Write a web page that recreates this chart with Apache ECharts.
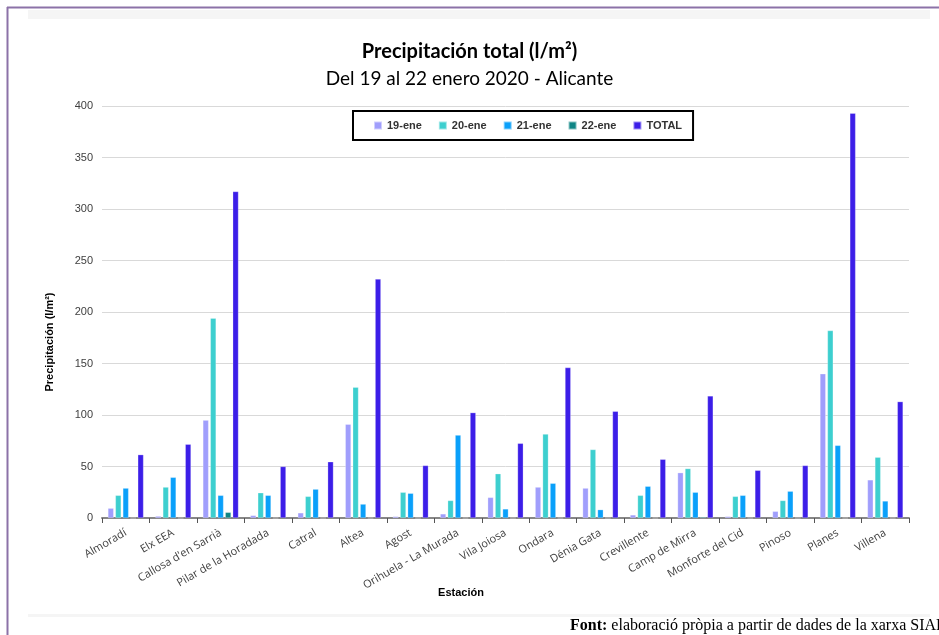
<!DOCTYPE html>
<html>
<head>
<meta charset="utf-8">
<script src="https://cdn.jsdelivr.net/npm/echarts@6/dist/echarts.min.js"></script>
<style>
html,body{margin:0;padding:0;background:#fff;}
#c{width:939px;height:635px;}
</style>
</head>
<body>
<div id="c"></div>
<script>
const categories = ["Almoradí","Elx EEA","Callosa d'en Sarrià","Pilar de la Horadada","Catral","Altea","Agost","Orihuela - La Murada","Vila Joiosa","Ondara","Dénia Gata","Crevillente","Camp de Mirra","Monforte del Cid","Pinoso","Planes","Villena"];
const ene19 = [9.5, 1.8, 95, 2.5, 5, 91, 1.5, 4, 20, 30, 29, 3, 44, 1.5, 6.5, 140, 37];
const ene20 = [22, 30, 194, 24.5, 21, 127, 25, 17, 43, 81.5, 66.5, 22, 48, 21, 17, 182, 59];
const ene21 = [29, 39.5, 22, 22, 28, 13.5, 24, 80.5, 8.8, 33.7, 8.1, 30.8, 25, 22, 26, 70.5, 16.5];
const ene22 = [0, 0, 5.5, 0, 0, 0, 0, 0, 0, 0, 0, 0, 1, 0, 0, 0, 0];
const total = [61.5, 71.6, 317, 50, 54.6, 232, 51, 102.3, 72.5, 146, 103.6, 57, 118.5, 46.3, 51, 393, 113];
const seriesNames = ["19-ene","20-ene","21-ene","22-ene","TOTAL"];
const yTicks = {min: 0, max: 400, interval: 50};

const colors = ["#a09efc","#3dcfcf","#0aa0fa","#0e8585","#3c1ee8"];
const dataSets = [ene19, ene20, ene21, ene22, total];

const chart = echarts.init(document.getElementById('c'), null, {renderer:'canvas'});
chart.setOption({
  animation: false,
  backgroundColor: '#fff',
  color: colors,
  title: {
    text: 'Precipitación total (l/m²)',
    subtext: 'Del 19 al 22 enero 2020 - Alicante',
    left: 'center',
    top: 37,
    itemGap: 7,
    textStyle: {fontFamily: 'Lato', fontWeight: 'bold', fontSize: 20, color: '#000'},
    subtextStyle: {fontFamily: 'Lato', fontSize: 19, color: '#000'}
  },
  legend: {
    data: seriesNames,
    left: 353,
    top: 111,
    padding: [9, 11, 9, 20],
    borderColor: '#000',
    borderWidth: 2,
    itemWidth: 8,
    itemHeight: 8,
    itemGap: 16,
    icon: 'rect',
    textStyle: {fontFamily: 'Liberation Sans', fontWeight: 'bold', fontSize: 11, color: '#333'}
  },
  grid: {left: 102, right: 30, top: 106, bottom: 117},
  xAxis: {
    type: 'category',
    data: categories,
    axisLine: {lineStyle: {color: '#868686', width: 2}},
    axisTick: {show: true, length: 5, lineStyle: {color: '#555', width: 1}},
    axisLabel: {rotate: 30, margin: 14, fontFamily: 'Open Sans', fontSize: 11, color: '#404040', interval: 0}
  },
  yAxis: {
    type: 'value',
    min: yTicks.min, max: yTicks.max, interval: yTicks.interval,
    axisLine: {show: false},
    axisTick: {show: false},
    splitLine: {lineStyle: {color: '#d9d9d9', width: 1}},
    axisLabel: {margin: 9, fontFamily: 'Liberation Sans', fontSize: 11, color: '#404040'}
  },
  graphic: [
    {type: 'line', shape: {x1: 7, y1: 7.5, x2: 939, y2: 7.5}, style: {stroke: '#8c72a8', lineWidth: 2}},
    {type: 'line', shape: {x1: 7.5, y1: 7, x2: 7.5, y2: 635}, style: {stroke: '#8c72a8', lineWidth: 2}},
    {type: 'rect', shape: {x: 28, y: 10, width: 902, height: 9}, style: {fill: '#f5f5f5'}},
    {type: 'rect', shape: {x: 28, y: 614, width: 902, height: 3}, style: {fill: '#f5f5f5'}},
    {type: 'text', x: 50, y: 342, rotation: Math.PI / 2,
      style: {text: 'Precipitación (l/m²)', fontFamily: 'Liberation Sans', fontWeight: 'bold', fontSize: 11, fill: '#000', align: 'center', verticalAlign: 'middle'}},
    {type: 'text', x: 461, y: 593,
      style: {text: 'Estación', fontFamily: 'Liberation Sans', fontWeight: 'bold', fontSize: 11, fill: '#000', align: 'center', verticalAlign: 'middle'}},
    {type: 'text', x: 570, y: 626,
      style: {text: '{b|Font:} elaboració pròpia a partir de dades de la xarxa SIAR',
        fontFamily: 'Liberation Serif', fontSize: 16, fill: '#000', verticalAlign: 'middle',
        rich: {b: {fontFamily: 'Liberation Serif', fontWeight: 'bold', fontSize: 16, fill: '#000'}}}}
  ],
  series: dataSets.map((d, i) => ({
    name: seriesNames[i],
    type: 'bar',
    data: d,
    barGap: '30%',
    barCategoryGap: '25%',
    itemStyle: {color: colors[i], borderColor: 'rgba(255,255,255,0.5)', borderWidth: 0.5}
  }))
});
</script>
</body>
</html>
